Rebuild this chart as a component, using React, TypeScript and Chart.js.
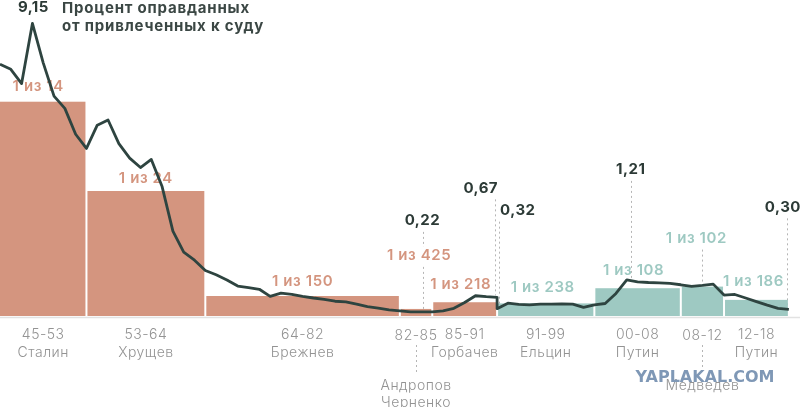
import { useEffect, useRef } from 'react';
import { Chart, registerables } from 'chart.js';

Chart.register(...registerables);

// процент оправданных, СССР (РСФСР) и РФ
const sovietYears = [
  1945, 1946, 1947, 1948, 1949, 1950, 1951, 1952, 1953, 1954, 1955, 1956, 1957, 1958, 1959, 1960,
  1961, 1962, 1963, 1964, 1965, 1966, 1967, 1968, 1969, 1970, 1971, 1972, 1973, 1974, 1975, 1976,
  1977, 1978, 1979, 1980, 1981, 1982, 1983, 1984, 1985, 1986, 1987, 1988, 1989, 1990, 1991,
];
const sovietRate = [
  7.89, 7.73, 7.29, 9.15, 7.93, 6.9, 6.52, 5.72, 5.28, 6.0, 6.16, 5.43, 4.98, 4.69, 4.94, 4.1,
  2.72, 2.07, 1.82, 1.5, 1.37, 1.21, 1.02, 0.97, 0.92, 0.7, 0.8, 0.76, 0.7, 0.65, 0.61, 0.55,
  0.53, 0.46, 0.38, 0.34, 0.28, 0.25, 0.22, 0.22, 0.22, 0.25, 0.33, 0.51, 0.72, 0.69, 0.67,
];
const russiaYears = [
  1991, 1992, 1993, 1994, 1995, 1996, 1997, 1998, 1999, 2000, 2001, 2002, 2003, 2004,
  2005, 2006, 2007, 2008, 2009, 2010, 2011, 2012, 2013, 2014, 2015, 2016, 2017, 2018,
];
const russiaRate = [
  0.32, 0.49, 0.45, 0.44, 0.46, 0.46, 0.47, 0.46, 0.36, 0.44, 0.48, 0.79, 1.21, 1.15,
  1.13, 1.12, 1.1, 1.06, 1.01, 1.04, 1.08, 0.74, 0.76, 0.65, 0.54, 0.43, 0.33, 0.3,
];

// периоды правления: "1 из N" оправданных
const periodStart = [1945, 1953, 1964, 1982, 1985, 1991, 2000, 2008, 2012];
const periodEnd = [1953, 1964, 1982, 1985, 1991, 2000, 2008, 2012, 2018];
const periodOneIn = [14, 24, 150, 425, 218, 238, 108, 102, 186];
const periodCode = ['45-53', '53-64', '64-82', '82-85', '85-91', '91-99', '00-08', '08-12', '12-18'];
const periodLeader = [
  ['Сталин'], ['Хрущев'], ['Брежнев'], ['Андропов', 'Черненко'], ['Горбачев'],
  ['Ельцин'], ['Путин'], ['Медведев'], ['Путин'],
];
const periodSoviet = [true, true, true, true, true, false, false, false, false];

// подписанные значения линии
const markYears = [1948, 1984, 1991, 1991, 2003, 2018];
const markValues = [9.15, 0.22, 0.67, 0.32, 1.21, 0.3];
const markText = ['9,15', '0,22', '0,67', '0,32', '1,21', '0,30'];

// layout tweaks
const barLabelLift = [15, 13, 15, 53, 18, 16, 18, 48, 18];
const barLabelDx = [-5, 0, 0, 3, -4, -3, -4, -6, -3];
const barLabelLeader = [false, false, false, false, false, false, false, true, false];
const barLabelBackdrop = [false, false, false, true, false, false, false, false, false];
const nameDropped = [false, false, false, true, false, false, false, true, false];
const markLift = [16, 91, 109, 98, 110, 102];
const markAlign: CanvasTextAlign[] = ['center', 'center', 'right', 'left', 'center', 'center'];
const markDx = [1, 1, 1, 3, 4, -6];
const markLeaderDx = [0, 2, -2, 2, 4, -2];
const markLeader = [false, true, true, true, true, true];

const SALMON = '#d4957f';
const TEAL = '#9ec9c2';
const LINE = '#2e4440';
const DARK = '#2c3a36';
const GREY = '#939393';
const FONT = 'Inter, "Noto Sans", sans-serif';

function dotted(ctx: CanvasRenderingContext2D, x: number, y1: number, y2: number) {
  ctx.save();
  ctx.strokeStyle = '#b5b5b5';
  ctx.lineWidth = 1;
  ctx.setLineDash([2, 3]);
  ctx.beginPath();
  ctx.moveTo(Math.round(x) + 0.5, y1);
  ctx.lineTo(Math.round(x) + 0.5, y2);
  ctx.stroke();
  ctx.restore();
}

const overlay = {
  id: 'overlay',
  beforeDatasetsDraw(chart: any) {
    const { ctx, chartArea } = chart;
    const { x, y, y2 } = chart.scales;
    const y0 = y.getPixelForValue(0);

    ctx.save();
    ctx.strokeStyle = '#e2e2e2';
    ctx.lineWidth = 1.5;
    ctx.beginPath();
    ctx.moveTo(chartArea.left, y0 + 1.5);
    ctx.lineTo(chartArea.right, y0 + 1.5);
    ctx.stroke();

    // leaders from value labels
    markYears.forEach((yr, i) => {
      if (!markLeader[i]) return;
      const px = x.getPixelForValue(yr) + markLeaderDx[i];
      const py = y2.getPixelForValue(markValues[i]);
      dotted(ctx, px, py - markLift[i] + 11, py - 2);
    });

    periodStart.forEach((s, i) => {
      const l = Math.max(x.getPixelForValue(s), chartArea.left) + (i ? 1 : 0);
      const r = x.getPixelForValue(periodEnd[i]) - 1;
      const top = y.getPixelForValue(100 / periodOneIn[i]);
      ctx.fillStyle = periodSoviet[i] ? SALMON : TEAL;
      ctx.fillRect(l, top, r - l, y0 - top);

      const cx = (Math.max(x.getPixelForValue(s), chartArea.left) + x.getPixelForValue(periodEnd[i])) / 2;
      const ly = top - barLabelLift[i];
      const text = `1 из ${periodOneIn[i]}`;
      ctx.font = `600 15px ${FONT}`;
      ctx.letterSpacing = '0.6px';
      ctx.textAlign = 'center';
      ctx.textBaseline = 'middle';
      const w = ctx.measureText(text).width;
      if (barLabelBackdrop[i]) {
        ctx.fillStyle = '#ffffff';
        ctx.fillRect(cx + barLabelDx[i] - w / 2 - 3, ly - 9, w + 6, 18);
      }
      if (barLabelLeader[i]) dotted(ctx, cx, ly + 11, top - 3);
      ctx.fillStyle = periodSoviet[i] ? SALMON : TEAL;
      ctx.fillText(text, cx + barLabelDx[i], ly);

      // подписи периодов внизу
      ctx.font = `300 14px ${FONT}`;
      ctx.letterSpacing = '0.5px';
      ctx.fillStyle = GREY;
      const names = periodLeader[i];
      if (nameDropped[i]) {
        ctx.fillText(periodCode[i], cx, y0 + 20);
        dotted(ctx, cx, y0 + 29, y0 + 57);
        names.forEach((n, k) => ctx.fillText(n, cx, y0 + 70 + k * 17));
      } else {
        ctx.fillText(periodCode[i], cx, y0 + 19);
        names.forEach((n, k) => ctx.fillText(n, cx, y0 + 37 + k * 17));
      }
    });
    ctx.restore();
  },
  afterDatasetsDraw(chart: any) {
    const { ctx } = chart;
    const { x, y2 } = chart.scales;
    ctx.save();
    ctx.textBaseline = 'middle';
    ctx.font = `700 15px ${FONT}`;
    ctx.letterSpacing = '0.5px';
    ctx.fillStyle = DARK;
    markYears.forEach((yr, i) => {
      const px = x.getPixelForValue(yr) + markDx[i];
      const py = y2.getPixelForValue(markValues[i]);
      ctx.textAlign = markAlign[i];
      ctx.fillText(markText[i], px, py - markLift[i]);
    });

    ctx.textAlign = 'left';
    ctx.letterSpacing = '0.8px';
    ctx.fillStyle = '#3b4744';
    ctx.fillText('Процент оправданных', 62, 8);
    ctx.fillText('от привлеченных к суду', 62, 26);

    ctx.textAlign = 'center';
    ctx.letterSpacing = '0px';
    ctx.font = 'bold 16px "DejaVu Sans", sans-serif';
    ctx.fillStyle = '#7f98b6';
    ctx.fillText('YAPLAKAL.COM', 705, 378);
    ctx.restore();
  },
};

export default function App() {
  const canvasRef = useRef<HTMLCanvasElement>(null);

  useEffect(() => {
    document.body.style.margin = '0';
    if (!canvasRef.current) return;

    const points = [
      ...sovietYears.map((yr, i) => ({ x: yr, y: sovietRate[i] })),
      ...russiaYears.map((yr, i) => ({ x: yr, y: russiaRate[i] })),
    ];

    const chart = new Chart(canvasRef.current, {
      type: 'line',
      data: {
        datasets: [
          {
            label: 'Процент оправданных',
            data: points,
            yAxisID: 'y2',
            borderColor: LINE,
            borderWidth: 2.8,
            borderJoinStyle: 'round',
            pointRadius: 0,
            tension: 0,
          },
        ],
      },
      options: {
        responsive: true,
        maintainAspectRatio: false,
        animation: false,
        layout: { padding: { top: 0, left: 0, right: 0, bottom: 91 } },
        plugins: {
          legend: { display: false },
          tooltip: { enabled: false },
        },
        scales: {
          x: { type: 'linear', min: 1945, max: 2019.03, display: false },
          y: { min: 0, max: 10.533, display: false },
          y2: { min: 0.093, max: 9.876, display: false },
        },
      },
      plugins: [overlay],
    });

    return () => chart.destroy();
  }, []);

  return (
    <div style={{ position: 'relative', width: 800, height: 407 }}>
      <canvas ref={canvasRef} />
    </div>
  );
}
